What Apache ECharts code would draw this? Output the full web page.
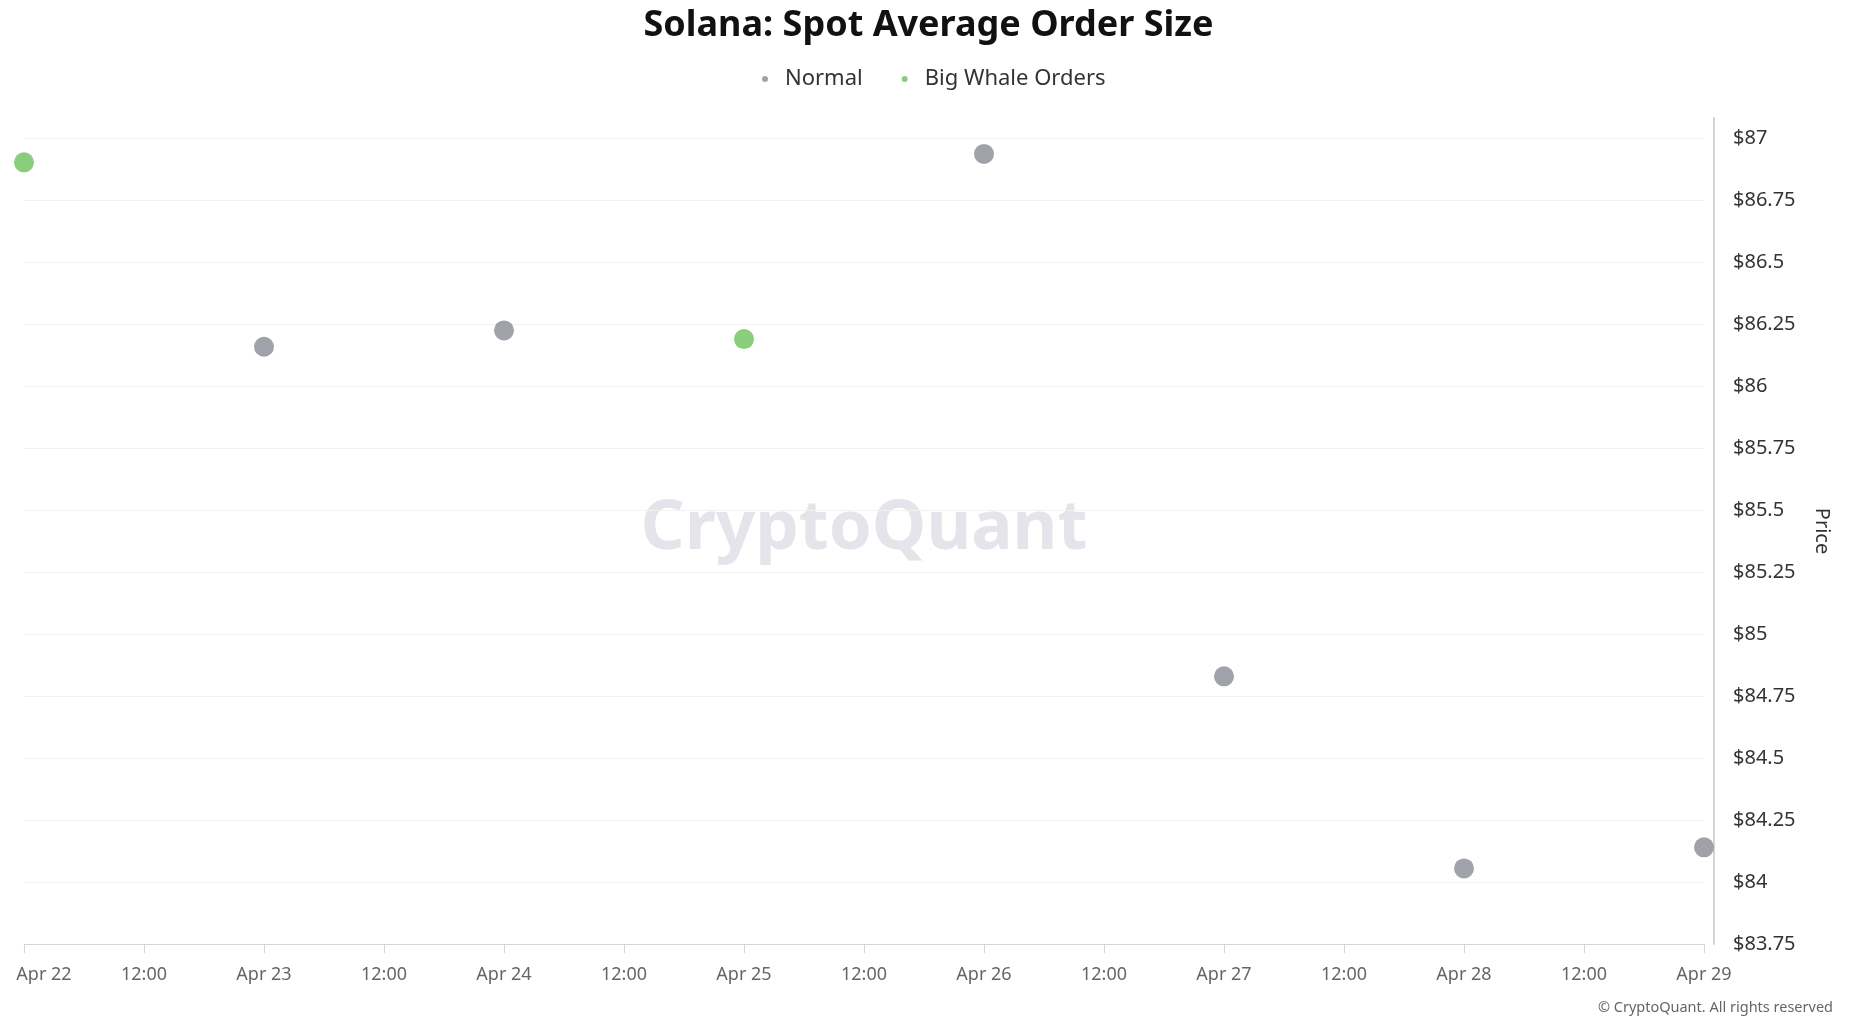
<!DOCTYPE html>
<html>
<head>
<meta charset="utf-8">
<script src="https://cdn.jsdelivr.net/npm/echarts@6/dist/echarts.min.js"></script>
<style>
html,body{margin:0;padding:0;background:#fff;}
#chart{width:1857px;height:1017px;}
</style>
</head>
<body>
<div id="chart"></div>
<script>
// ---- data ----
const seriesNames = ['Normal', 'Big Whale Orders'];
const normalDates = ['2025-04-23', '2025-04-24', '2025-04-26', '2025-04-27', '2025-04-28', '2025-04-29'];
const normalPrices = [86.16, 86.226, 86.938, 84.83, 84.055, 84.14];
const whaleDates = ['2025-04-22', '2025-04-25'];
const whalePrices = [86.904, 86.191];
const xStart = '2025-04-22';
const xEnd = '2025-04-29';
const yMin = 83.75, yMax = 87.083, yStep = 0.25;
const monthNames = ['Jan','Feb','Mar','Apr','May','Jun','Jul','Aug','Sep','Oct','Nov','Dec'];

const ts = d => Date.parse(d + 'T00:00:00Z');
const pairs = (ds, vs) => ds.map((d, i) => [ts(d), vs[i]]);
const HALF_DAY = 12 * 3600 * 1000;
const FONT = 'Noto Sans';

const chart = echarts.init(document.getElementById('chart'), null, {renderer: 'canvas'});
chart.setOption({
  backgroundColor: '#ffffff',
  animation: false,
  title: {
    text: 'Solana: Spot Average Order Size',
    left: 'center',
    top: 3,
    textStyle: {fontFamily: FONT, fontSize: 36, fontWeight: 'bold', color: '#111111'}
  },
  legend: {
    data: seriesNames,
    top: 63,
    left: 757,
    icon: 'circle',
    itemWidth: 30,
    itemHeight: 6,
    itemGap: 39,
    textStyle: {fontFamily: FONT, fontSize: 22, color: '#333333'}
  },
  grid: {left: 24, right: 153, top: 118, bottom: 73},
  xAxis: {
    type: 'value',
    min: ts(xStart),
    max: ts(xEnd),
    interval: HALF_DAY,
    splitLine: {show: false},
    axisLine: {show: true, lineStyle: {color: '#d6d6d6', width: 1}},
    axisTick: {show: true, length: 9, lineStyle: {color: '#d6d6d6'}},
    axisLabel: {
      margin: 22,
      fontFamily: FONT,
      fontSize: 18,
      color: '#666666',
      formatter: function (v) {
        const d = new Date(v);
        if (d.getUTCHours() !== 0) return '12:00';
        const s = monthNames[d.getUTCMonth()] + ' ' + d.getUTCDate();
        if (v === ts(xStart)) return '{first|' + s + '}';
        return s;
      },
      rich: {first: {fontFamily: FONT, fontSize: 18, color: '#666666', padding: [0, 0, 0, 40]}}
    }
  },
  yAxis: {
    type: 'value',
    position: 'right',
    offset: 10,
    min: yMin,
    max: yMax,
    interval: yStep,
    name: 'Price',
    nameLocation: 'middle',
    nameRotate: -90,
    nameGap: 98,
    nameTextStyle: {fontFamily: FONT, fontSize: 20, color: '#333333'},
    axisLine: {show: true, lineStyle: {color: '#d4d4da', width: 2}},
    axisTick: {show: false},
    splitLine: {show: true, showMaxLine: false, lineStyle: {color: '#f2f2f2', width: 1}},
    axisLabel: {
      margin: 19,
      fontFamily: FONT,
      fontSize: 20,
      color: '#333333',
      padding: [0, 0, 9, 0],
      formatter: function (v) {
        const q = v / yStep;
        if (Math.abs(q - Math.round(q)) > 1e-6) return '';
        return '$' + parseFloat(v.toFixed(2));
      }
    }
  },
  graphic: [
    {
      type: 'text',
      x: 864, y: 529,
      z: -10,
      silent: true,
      style: {text: 'CryptoQuant', fontFamily: FONT, fontSize: 69, fontWeight: 'bold', fill: '#e5e4ea', textAlign: 'center', textVerticalAlign: 'middle'}
    },
    {
      type: 'text',
      right: 24, top: 1000,
      silent: true,
      style: {text: '\u00a9 CryptoQuant. All rights reserved', fontFamily: FONT, fontSize: 14.5, fill: '#666666'}
    }
  ],
  series: [
    {
      name: seriesNames[0],
      type: 'scatter',
      clip: false,
      symbol: 'circle',
      symbolSize: 20,
      itemStyle: {color: '#8a8995'},
      data: pairs(normalDates, normalPrices)
    },
    {
      name: seriesNames[1],
      type: 'scatter',
      clip: false,
      symbol: 'circle',
      symbolSize: 20,
      itemStyle: {color: '#6cc15c'},
      data: pairs(whaleDates, whalePrices)
    }
  ]
});
</script>
</body>
</html>
